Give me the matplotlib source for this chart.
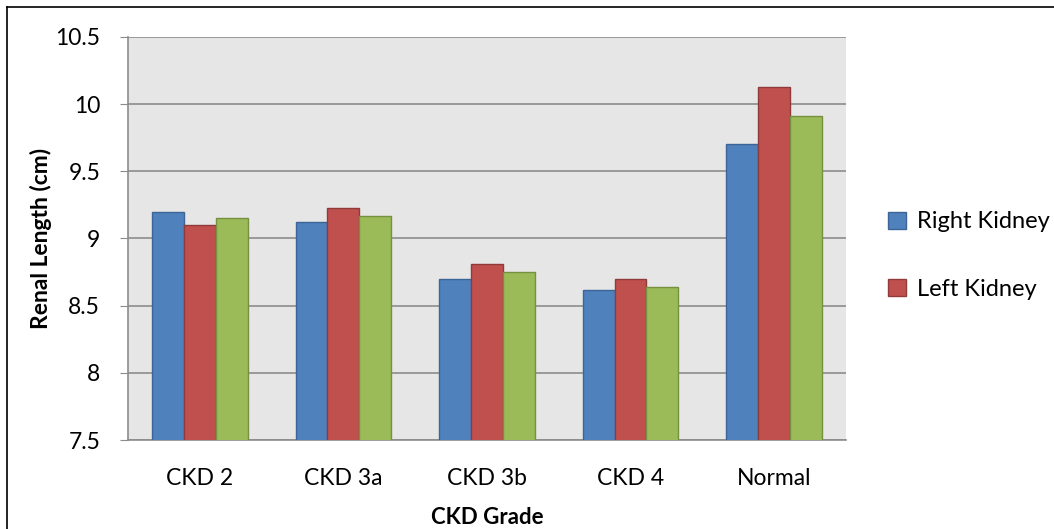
import numpy as np
import matplotlib.pyplot as plt
from matplotlib.lines import Line2D

plt.rcParams['font.family'] = ['Lato', 'DejaVu Sans']

grades = ["CKD 2", "CKD 3a", "CKD 3b", "CKD 4", "Normal"]
right_kidney = [9.20, 9.12, 8.70, 8.62, 9.70]
left_kidney = [9.10, 9.23, 8.81, 8.70, 10.13]
third_series = [9.15, 9.17, 8.75, 8.64, 9.91]

fig = plt.figure(figsize=(10.54, 5.29), dpi=100)
ax = fig.add_axes([0.1214, 0.1682, 0.6812, 0.7619])
ax.set_facecolor('#e6e6e6')

x = np.arange(len(grades))
w = 0.222
ax.bar(x - w, right_kidney, w, color='#4f81bd', edgecolor='#3c6496',
       linewidth=1, label='Right Kidney', zorder=3)
ax.bar(x, left_kidney, w, color='#c0504d', edgecolor='#8f3b39',
       linewidth=1, label='Left Kidney', zorder=3)
ax.bar(x + w, third_series, w, color='#9bbb59', edgecolor='#76903f',
       linewidth=1, zorder=3)

ax.set_ylim(7.5, 10.5)
ax.set_xlim(-0.5, len(grades) - 0.5)
ax.set_yticks([7.5, 8, 8.5, 9, 9.5, 10, 10.5])
ax.set_yticklabels(['7.5', '8', '8.5', '9', '9.5', '10', '10.5'])
ax.set_xticks(x)
ax.set_xticklabels(grades)
ax.yaxis.grid(True, color='#8c8c8c', linewidth=1.2, zorder=1)
ax.set_axisbelow(True)

for s in ['top', 'right']:
    ax.spines[s].set_visible(False)
for s in ['left', 'bottom']:
    ax.spines[s].set_color('#8c8c8c')
    ax.spines[s].set_linewidth(1.2)
ax.tick_params(axis='y', length=6, color='#8c8c8c', labelsize=16.5, pad=14)
ax.tick_params(axis='x', length=0, labelsize=16.5, pad=20)

ax.set_xlabel('CKD Grade', fontsize=16, fontweight='bold')
ax.xaxis.set_label_coords(0.5, -0.165)
ax.set_ylabel('Renal Length (cm)', fontsize=16.5, fontweight='bold')
ax.yaxis.set_label_coords(-0.106, 0.5)

leg = fig.legend(loc='center left', bbox_to_anchor=(0.8227, 0.517), frameon=False,
                 fontsize=17, handlelength=0.75, handleheight=0.75,
                 labelspacing=1.95, handletextpad=0.45)

# outer border (top and left visible in the cropped image)
fig.add_artist(Line2D([0.0066, 0.0066], [0, 0.987], color='black', linewidth=1.2))
fig.add_artist(Line2D([0.0066, 1.0], [0.987, 0.987], color='black', linewidth=1.2))

fig.savefig('out.png', dpi=100)
